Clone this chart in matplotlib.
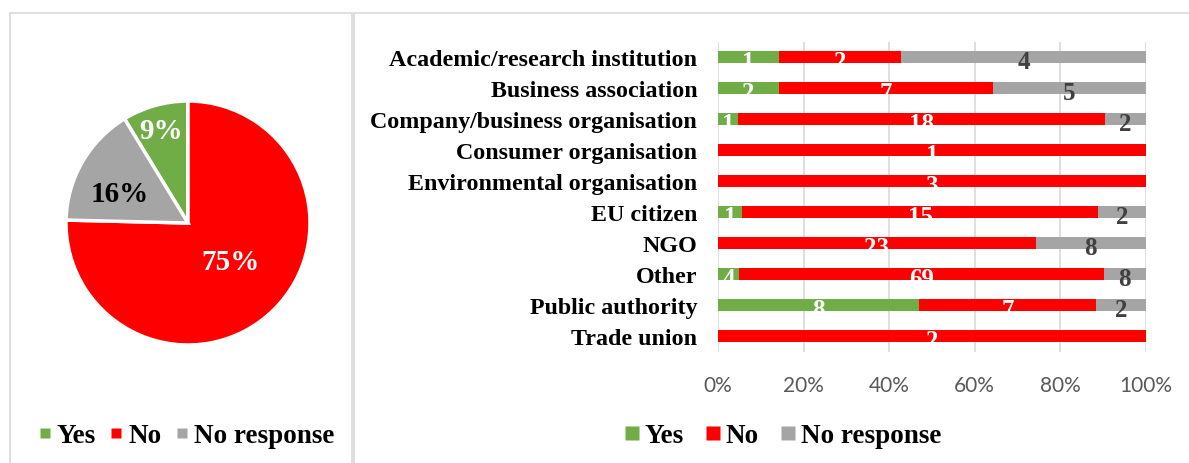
import numpy as np
import matplotlib
matplotlib.use("Agg")
import matplotlib.pyplot as plt
from matplotlib.patches import Rectangle
from matplotlib.lines import Line2D

# ---- data ----
categories = [
    "Academic/research institution",
    "Business association",
    "Company/business organisation",
    "Consumer organisation",
    "Environmental organisation",
    "EU citizen",
    "NGO",
    "Other",
    "Public authority",
    "Trade union",
]
yes_counts = [1, 2, 1, 0, 0, 1, 0, 4, 8, 0]
no_counts = [2, 7, 18, 1, 3, 15, 23, 69, 7, 2]
noresp_counts = [4, 5, 2, 0, 0, 2, 8, 8, 2, 0]
series_names = ["Yes", "No", "No response"]
tick_labels = ["0%", "20%", "40%", "60%", "80%", "100%"]

colors = ["#70AD47", "#FF0000", "#A5A5A5"]
label_colors = ["white", "white", "#404040"]
serif = "Liberation Serif"

W, H = 1189, 464
fig = plt.figure(figsize=(W / 100, H / 100), dpi=100)


def fx(px):
    return px / W


def fy(py):
    return 1 - py / H


# ---- panel frames ----
fig.patches.append(Rectangle((fx(10), fy(470)), fx(342), (470 - 14) / H,
                             transform=fig.transFigure, fill=False,
                             edgecolor="#D9D9D9", linewidth=1.2))
fig.patches.append(Rectangle((fx(354), fy(470)), fx(840), (470 - 14) / H,
                             transform=fig.transFigure, fill=False,
                             edgecolor="#D9D9D9", linewidth=1.2))

# ---- pie of totals ----
totals = [sum(yes_counts), sum(no_counts), sum(noresp_counts)]
grand = sum(totals)
r_px = 122
cx, cy = 188, 224
ax_pie = fig.add_axes([fx(cx - r_px), fy(cy + r_px), fx(2 * r_px), 2 * r_px / H])
start = 90 + 360 * totals[0] / grand
wedges, _ = ax_pie.pie(totals, colors=colors, startangle=start, counterclock=False,
                       wedgeprops=dict(edgecolor="white", linewidth=2.5))
ax_pie.set_xlim(-1, 1)
ax_pie.set_ylim(-1, 1)
ax_pie.set_aspect("equal")
ax_pie.axis("off")

# radial distance and angular nudge of each percentage label
label_dist = [0.82, 0.45, 0.62]
label_turn = [0, 6, 4]
pie_text_colors = ["white", "white", "black"]
for w, v, d, t, c in zip(wedges, totals, label_dist, label_turn, pie_text_colors):
    mid = np.deg2rad((w.theta1 + w.theta2) / 2 + t)
    ax_pie.text(d * np.cos(mid), d * np.sin(mid) - 0.03, f"{round(100 * v / grand)}%",
                ha="center", va="center", color=c, fontsize=21,
                fontweight="bold", family=serif)

# ---- stacked 100% bars ----
ax = fig.add_axes([fx(718), fy(352.5), fx(428), 310 / H])
data = np.array([yes_counts, no_counts, noresp_counts], dtype=float)
row_tot = data.sum(axis=0)
shares = data / row_tot
y = np.arange(len(categories))
left = np.zeros(len(categories))
for i, name in enumerate(series_names):
    ax.barh(y, shares[i], left=left, height=0.4, color=colors[i], label=name, zorder=2)
    for j in range(len(categories)):
        if data[i, j] > 0:
            ax.text(left[j] + shares[i, j] / 2, y[j] + 0.14, f"{int(data[i, j])}",
                    ha="center", va="center", color=label_colors[i], fontsize=18,
                    fontweight="bold", family=serif, zorder=3)
    left += shares[i]

ax.set_xlim(0, 1)
ax.set_ylim(len(categories) - 0.5, -0.5)
ax.set_xticks(np.linspace(0, 1, 6))
ax.set_xticklabels(tick_labels, fontsize=15, color="#595959", family="Lato")
ax.set_yticks(y)
ax.set_yticklabels(categories, fontsize=17.3, fontweight="bold", family=serif)
ax.tick_params(axis="both", length=0)
ax.tick_params(axis="y", pad=15)
ax.tick_params(axis="x", pad=17)
ax.grid(axis="x", color="#D9D9D9", linewidth=1.2, zorder=0)
for s in ax.spines.values():
    s.set_visible(False)


# ---- legends ----
def square_handles(size_pt):
    return [Line2D([], [], linestyle="none", marker="s", markersize=size_pt,
                   markerfacecolor=c, markeredgecolor="none") for c in colors]


fs = 19.5
fig.legend(square_handles(6.5), series_names, loc="center",
           bbox_to_anchor=(fx(187), fy(437)),
           ncol=3, frameon=False, handlelength=0.34,
           handletextpad=0.26, columnspacing=0.6,
           prop=dict(family=serif, weight="bold", size=fs))
fig.legend(square_handles(10), series_names, loc="center",
           bbox_to_anchor=(fx(783), fy(437)),
           ncol=3, frameon=False, handlelength=0.52,
           handletextpad=0.22, columnspacing=0.8,
           prop=dict(family=serif, weight="bold", size=fs))

fig.savefig("out.png", dpi=100)
